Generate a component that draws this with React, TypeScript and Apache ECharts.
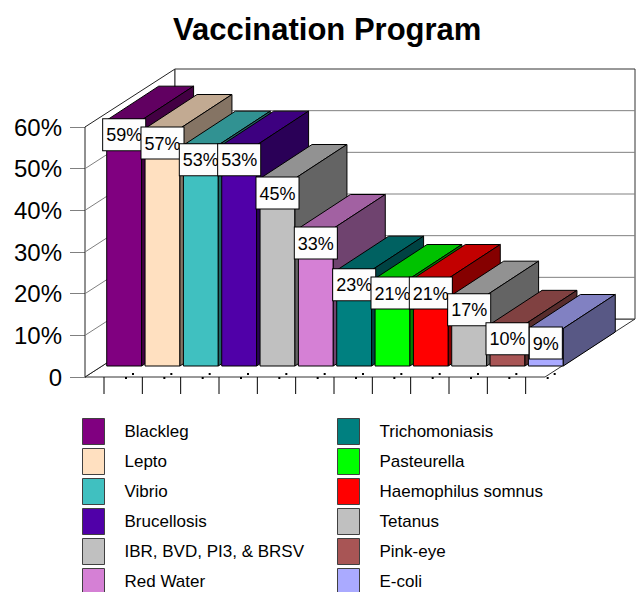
import React, { useEffect, useRef } from 'react';
import * as echarts from 'echarts';

const chartTitle = 'Vaccination Program';
const categories = [
  'Blackleg',
  'Lepto',
  'Vibrio',
  'Brucellosis',
  'IBR, BVD, PI3, & BRSV',
  'Red Water',
  'Trichomoniasis',
  'Pasteurella',
  'Haemophilus somnus',
  'Tetanus',
  'Pink-eye',
  'E-coli',
];
const values = [59, 57, 53, 53, 45, 33, 23, 21, 21, 17, 10, 9];
const colors = [
  '#800080', '#FFE0C0', '#40C0C0', '#5000A8', '#C0C0C0', '#D580D5',
  '#008080', '#00FF00', '#FF0000', '#C0C0C0', '#A85555', '#AAAAFF',
];
const yTicks = [0, 10, 20, 30, 40, 50, 60];
const yTickLabels = ['0', '10%', '20%', '30%', '40%', '50%', '60%'];

const FONT = "'Liberation Sans', Arial, sans-serif";
// projection of the chart's depth
const DX = 90;
const DY = -58;
const BAR_OX = 20;
const BAR_OY = -11;
const BAR_DX = 52;
const BAR_DY = -34;
const TICK_OX = 19;

function shade(hex: string, f: number) {
  const n = parseInt(hex.slice(1), 16);
  const r = Math.round(((n >> 16) & 255) * f);
  const g = Math.round(((n >> 8) & 255) * f);
  const b = Math.round((n & 255) * f);
  return `rgb(${r},${g},${b})`;
}

export default function App() {
  const ref = useRef<HTMLDivElement>(null);
  useEffect(() => {
    document.body.style.margin = '0';
    const chart = echarts.init(ref.current!, null, { renderer: 'svg' });
    const yMax = yTicks[yTicks.length - 1];

    const wallsRender = (params: any, api: any) => {
      const cs = params.coordSys;
      const v = api.value(1);
      const y = api.coord([0, v])[1];
      const left = cs.x;
      const right = cs.x + cs.width;
      const children: any[] = [];
      if (params.dataIndex === 0) {
        const yB = y;
        const yT = api.coord([0, yMax])[1];
        children.push({
          type: 'polygon',
          shape: { points: [[left, yB], [right, yB], [right + DX, yB + DY], [left + DX, yB + DY]] },
          style: { fill: '#fff', stroke: '#333', lineWidth: 1 },
        });
        children.push({
          type: 'polygon',
          shape: { points: [[left, yB], [left, yT], [left + DX, yT + DY], [left + DX, yB + DY]] },
          style: { fill: '#fff', stroke: '#222', lineWidth: 1 },
        });
        children.push({
          type: 'polygon',
          shape: { points: [[left + DX, yT + DY], [right + DX, yT + DY], [right + DX, yB + DY], [left + DX, yB + DY]] },
          style: { fill: '#fff', stroke: '#333', lineWidth: 1 },
        });
      } else if (v < yMax) {
        children.push({
          type: 'polyline',
          shape: { points: [[left, y], [left + DX, y + DY], [right + DX, y + DY]] },
          style: { fill: 'none', stroke: '#808080', lineWidth: 1 },
        });
      }
      return { type: 'group', children };
    };

    const barRender = (color: string) => (params: any, api: any) => {
      const idx = api.value(0);
      const v = api.value(1);
      const [xc, yt] = api.coord([idx, v]);
      const y0 = api.coord([idx, 0])[1];
      const bandW = api.size([1, 0])[0];
      const barW = bandW * 0.91;
      const L = xc - barW / 2 + BAR_OX;
      const R = L + barW;
      const yTop = yt + BAR_OY;
      const yB = y0 + BAR_OY;
      const slotLeft = xc - bandW / 2;
      const top = shade(color, 0.76);
      const side = shade(color, 0.52);
      const stroke = { stroke: '#000', lineWidth: 1, lineJoin: 'round' };
      return {
        type: 'group',
        children: [
          {
            type: 'line',
            shape: { x1: slotLeft + TICK_OX, y1: y0, x2: slotLeft + TICK_OX, y2: y0 + 17 },
            style: { stroke: '#000', lineWidth: 1 },
          },
          {
            type: 'rect',
            shape: { x: slotLeft + 40, y: y0, width: 2, height: 2 },
            style: { fill: '#000' },
          },
          {
            type: 'rect',
            shape: { x: slotLeft + 47, y: y0 - 4, width: 2, height: 2 },
            style: { fill: '#000' },
          },
          {
            type: 'polygon',
            shape: { points: [[L, yTop], [R, yTop], [R, yB], [L, yB]] },
            style: { fill: color, ...stroke },
          },
          {
            type: 'polygon',
            shape: { points: [[L, yTop], [R, yTop], [R + BAR_DX, yTop + BAR_DY], [L + BAR_DX, yTop + BAR_DY]] },
            style: { fill: top, ...stroke },
          },
          {
            type: 'polygon',
            shape: { points: [[R, yTop], [R + BAR_DX, yTop + BAR_DY], [R + BAR_DX, yB + BAR_DY], [R, yB]] },
            style: { fill: side, ...stroke },
          },
          {
            type: 'text',
            z2: 100,
            style: {
              text: v + '%',
              x: (L + R) / 2,
              y: yTop - 1,
              align: 'center',
              verticalAlign: 'top',
              fontSize: 18,
              fontFamily: FONT,
              fill: '#000',
              backgroundColor: '#fdfdfd',
              borderColor: '#000',
              borderWidth: 1,
              padding: [7, 3, 6, 3],
            },
          },
        ],
      };
    };

    const barSeries = categories.map((name, i) => ({
      type: 'custom',
      name,
      data: [[i, values[i]]],
      encode: { x: 0, y: 1 },
      itemStyle: { color: colors[i] },
      renderItem: barRender(colors[i]),
      clip: false,
      silent: true,
    }));

    const legendBase = {
      orient: 'vertical',
      top: 418,
      height: 190,
      padding: 0,
      itemWidth: 22,
      itemHeight: 26,
      itemGap: 3,
      icon: 'rect',
      selectedMode: false,
      itemStyle: { borderColor: '#404040', borderWidth: 1 },
      textStyle: { fontSize: 17, fontFamily: FONT, color: '#000', padding: [0, 0, 0, 15] },
    };

    chart.setOption({
      animation: false,
      backgroundColor: '#fff',
      title: {
        text: chartTitle,
        left: 168,
        top: 9,
        textStyle: { fontSize: 31, fontWeight: 'bold', fontFamily: FONT, color: '#000' },
      },
      legend: [
        { ...legendBase, left: 82, data: categories.slice(0, 6) },
        { ...legendBase, left: 337, data: categories.slice(6) },
      ],
      grid: { left: 85, right: 93, top: 127, bottom: 215 },
      xAxis: {
        type: 'category',
        data: categories,
        axisLine: { show: false },
        axisTick: { show: false },
        axisLabel: { show: false },
        splitLine: { show: false },
      },
      yAxis: {
        type: 'value',
        min: 0,
        max: yMax,
        interval: 10,
        axisLine: { show: true, lineStyle: { color: '#000', width: 1 } },
        axisTick: { show: true, length: 15, lineStyle: { color: '#808080' } },
        splitLine: { show: false },
        axisLabel: {
          margin: 23,
          fontSize: 24,
          fontFamily: FONT,
          color: '#000',
          formatter: (v: number) => yTickLabels[yTicks.indexOf(v)] ?? '',
        },
      },
      series: [
        {
          type: 'custom',
          name: '__walls',
          data: yTicks.map((v) => [0, v]),
          encode: { x: 0, y: 1 },
          renderItem: wallsRender,
          clip: false,
          silent: true,
          z: 1,
        },
        ...barSeries,
      ],
    });
    return () => chart.dispose();
  }, []);
  return <div ref={ref} style={{ width: 638, height: 592 }} />;
}
